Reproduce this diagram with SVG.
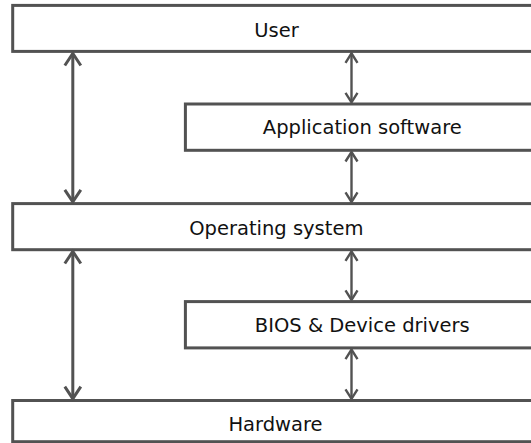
<svg xmlns="http://www.w3.org/2000/svg" width="531" height="443" viewBox="0 0 531 443">
<style>
.box{fill:#fff;stroke:#525252;stroke-width:3}
.lbl{font-family:"DejaVu Sans",Verdana,sans-serif;font-size:19.5px;fill:#111;text-anchor:middle}
.thick{stroke:#525252;stroke-width:3;fill:none;marker-start:url(#hb);marker-end:url(#hb)}
.thin{stroke:#525252;stroke-width:2.4;fill:none;marker-start:url(#hs);marker-end:url(#hs)}
</style>
<defs>
<marker id="hb" markerUnits="userSpaceOnUse" viewBox="-16 -10 20 20" markerWidth="20" markerHeight="20" refX="0" refY="0" orient="auto-start-reverse">
<path d="M-12 -8 L0 0 L-12 8" fill="none" stroke="#525252" stroke-width="3"/>
</marker>
<marker id="hs" markerUnits="userSpaceOnUse" viewBox="-16 -10 20 20" markerWidth="20" markerHeight="20" refX="0" refY="0" orient="auto-start-reverse">
<path d="M-9.5 -6 L0 0 L-9.5 6" fill="none" stroke="#525252" stroke-width="2.4"/>
</marker>
</defs>
<rect width="531" height="443" fill="#fff"/>
<g id="user"><rect class="box" x="12.7" y="5.4" width="527" height="46"/><text class="lbl" x="276.5" y="36.6">User</text></g>
<g id="app"><rect class="box" x="185.4" y="104" width="354" height="46.3"/><text class="lbl" x="362.3" y="133.9">Application software</text></g>
<g id="os"><rect class="box" x="12.7" y="203.6" width="527" height="46.1"/><text class="lbl" x="276.3" y="234.8">Operating system</text></g>
<g id="bios"><rect class="box" x="185.4" y="301.6" width="354" height="46.3"/><text class="lbl" x="362.3" y="332.1">BIOS &amp; Device drivers</text></g>
<g id="hw"><rect class="box" x="12.7" y="400.5" width="527" height="41.2"/><text class="lbl" x="275.5" y="431.3">Hardware</text></g>
<g id="connectors">
<line class="thick" x1="72.8" y1="53.5" x2="72.8" y2="201.8"/>
<line class="thick" x1="72.8" y1="251.5" x2="72.8" y2="398.7"/>
<line class="thin" x1="351.5" y1="53.3" x2="351.5" y2="102.3"/>
<line class="thin" x1="351.5" y1="152" x2="351.5" y2="201.9"/>
<line class="thin" x1="351.5" y1="251.4" x2="351.5" y2="299.9"/>
<line class="thin" x1="351.5" y1="349.6" x2="351.5" y2="398.8"/>
</g>
</svg>
